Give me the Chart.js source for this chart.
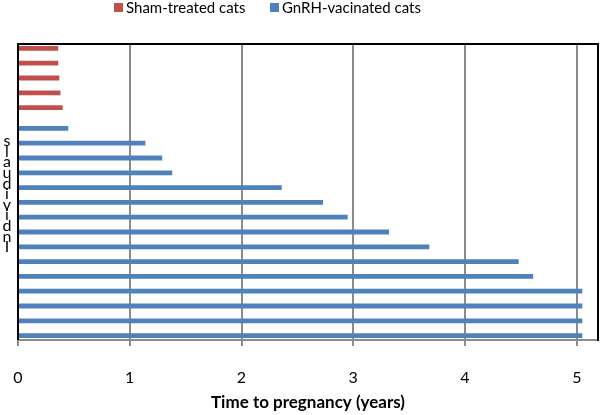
<!DOCTYPE html>
<html>
<head>
<meta charset="utf-8">
<script src="https://cdn.jsdelivr.net/npm/chart.js@4.4.1/dist/chart.umd.min.js"></script>
<style>
html,body{margin:0;padding:0;background:#fff;}
#wrap{width:600px;height:415px;position:relative;}
</style>
</head>
<body>
<div id="wrap"><canvas id="c" width="600" height="415"></canvas></div>
<script>
const categories = ["1","2","3","4","5","6","7","8","9","10","11","12","13","14","15","16","17","18","19","20"];
const shamValues = [0.36,0.36,0.37,0.38,0.40,null,null,null,null,null,null,null,null,null,null,null,null,null,null,null];
const gnrhValues = [null,null,null,null,null,0.45,1.14,1.29,1.38,2.36,2.73,2.95,3.32,3.68,4.48,4.61,5.05,5.05,5.05,5.05];
const seriesLabels = ["Sham-treated cats","GnRH-vacinated cats"];
const xTicks = [0,1,2,3,4,5];
const xTitle = "Time to pregnancy (years)";
const yTitle = "Individuals";

const RED = "#C0504D", BLUE = "#4F81BD";
const FONT = "Lato, 'Liberation Sans', sans-serif";

const framePlugin = {
  id: 'frame',
  afterDraw(chart) {
    const {ctx, chartArea: a} = chart;
    ctx.save();
    ctx.strokeStyle = '#000';
    ctx.lineWidth = 2;
    ctx.beginPath();
    ctx.moveTo(a.left, a.bottom);
    ctx.lineTo(a.left, a.top);
    ctx.lineTo(a.right, a.top);
    ctx.lineTo(a.right, a.bottom + 1);
    ctx.stroke();
    // legend
    ctx.font = "15px " + FONT;
    ctx.textBaseline = 'middle';
    ctx.textAlign = 'left';
    const items = [
      {label: seriesLabels[0], color: RED, x: 114},
      {label: seriesLabels[1], color: BLUE, x: 270}
    ];
    items.forEach(it => {
      ctx.fillStyle = it.color;
      ctx.fillRect(it.x, 3, 9, 9);
      ctx.fillStyle = '#000';
      ctx.fillText(it.label, it.x + 12, 8);
    });
    // y label: stacked upright characters, bottom to top
    ctx.font = "16px " + FONT;
    ctx.textAlign = 'center';
    const chars = yTitle.split('').reverse();
    chars.forEach((ch, i) => {
      ctx.fillText(ch, 7, 141 + i * 10.6);
    });
    ctx.restore();
  }
};

new Chart(document.getElementById('c'), {
  type: 'bar',
  data: {
    labels: categories,
    datasets: [
      {label: seriesLabels[0], data: shamValues, backgroundColor: RED, borderWidth: 0},
      {label: seriesLabels[1], data: gnrhValues, backgroundColor: BLUE, borderWidth: 0}
    ]
  },
  options: {
    indexAxis: 'y',
    responsive: false,
    animation: false,
    devicePixelRatio: 1,
    categoryPercentage: 0.81,
    barPercentage: 0.8,
    layout: {padding: {top: 44, left: 18, right: 2, bottom: 0}},
    plugins: {legend: {display: false}, tooltip: {enabled: false}},
    scales: {
      y: {display: false, offset: true},
      x: {
        min: 0, max: 5.19,
        afterBuildTicks: s => { s.ticks = xTicks.map(v => ({value: v})); },
        afterFit: s => { s.height = 75; s.paddingLeft = 0; s.paddingRight = 0; },
        grid: {color: '#8c8c8c', lineWidth: 2, tickLength: 6, drawTicks: true},
        border: {color: '#8c8c8c', width: 2},
        ticks: {font: {size: 16, family: FONT}, color: '#000', padding: 22, maxRotation: 0},
        title: {display: true, text: xTitle, font: {size: 17, weight: 'bold', family: FONT}, color: '#000', padding: {top: 10, bottom: 2}}
      }
    }
  },
  plugins: [framePlugin]
});
</script>
</body>
</html>
